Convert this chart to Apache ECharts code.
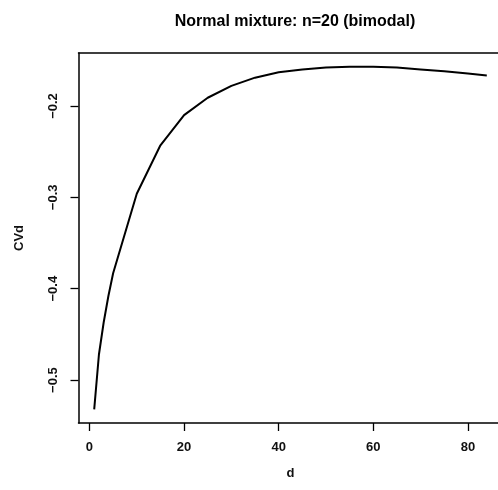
<!DOCTYPE html>
<html>
<head>
<meta charset="utf-8">
<script src="https://cdn.jsdelivr.net/npm/echarts@6/dist/echarts.min.js"></script>
<style>html,body{margin:0;padding:0;background:#fff}#c{width:498px;height:490px}</style>
</head>
<body>
<div id="c"></div>
<script>
const dValues = [1, 2, 3, 4, 5, 10, 15, 20, 25, 30, 35, 40, 45, 50, 55, 60, 65, 70, 75, 80, 84];
const cvdValues = [-0.532, -0.472, -0.437, -0.408, -0.383, -0.296, -0.243, -0.210, -0.191, -0.178, -0.169, -0.163, -0.160, -0.158, -0.157, -0.157, -0.158, -0.160, -0.162, -0.1645, -0.1665];
const xTicks = [0, 20, 40, 60, 80];
const yTicks = [-0.5, -0.4, -0.3, -0.2];
const titleText = 'Normal mixture: n=20 (bimodal)';
const xName = 'd';
const yName = 'CVd';

const font = 'Liberation Sans, Arial, Helvetica, sans-serif';
const chart = echarts.init(document.getElementById('c'), null, {renderer: 'canvas'});
const fmt = v => String(v).replace('-', '\u2212');
const lineStyle = {color: '#000', width: 1.5};
const labelStyle = {fontFamily: font, fontSize: 13, fontWeight: 'bold', color: '#111'};
chart.setOption({
  animation: false,
  backgroundColor: '#fff',
  title: {
    text: titleText, left: 290, top: 9, textAlign: 'center',
    textStyle: {fontFamily: font, fontSize: 16, fontWeight: 'bold', color: '#000'}
  },
  grid: {left: 78.5, top: 53, width: 424, height: 370, show: false, outerBoundsMode: 'none', containLabel: false},
  xAxis: [{
    type: 'value', min: -2.32, max: 87.32, position: 'bottom',
    name: xName, nameLocation: 'middle', nameGap: 44,
    nameTextStyle: Object.assign({}, labelStyle),
    axisLine: {show: true, onZero: false, lineStyle: lineStyle},
    axisTick: {show: true, length: 8, customValues: xTicks, lineStyle: {color: '#000', width: 1.3}},
    axisLabel: Object.assign({customValues: xTicks, margin: 18, formatter: fmt}, labelStyle),
    splitLine: {show: false}
  }, {
    type: 'value', min: -2.32, max: 87.32, position: 'top',
    axisLine: {show: true, onZero: false, lineStyle: lineStyle},
    axisTick: {show: false}, axisLabel: {show: false}, splitLine: {show: false}
  }],
  yAxis: {
    type: 'value', min: -0.547, max: -0.142,
    name: yName, nameLocation: 'middle', nameGap: 53, nameRotate: 90,
    nameTextStyle: Object.assign({}, labelStyle),
    axisLine: {show: true, onZero: false, lineStyle: lineStyle},
    axisTick: {show: true, length: 8, customValues: yTicks, lineStyle: {color: '#000', width: 1.3}},
    axisLabel: Object.assign({customValues: yTicks, rotate: 90, margin: 19, formatter: fmt}, labelStyle),
    splitLine: {show: false}
  },
  series: [{
    type: 'line', data: dValues.map((d, i) => [d, cvdValues[i]]),
    showSymbol: false, smooth: false,
    lineStyle: {color: '#000', width: 2}
  }]
});
</script>
</body>
</html>
